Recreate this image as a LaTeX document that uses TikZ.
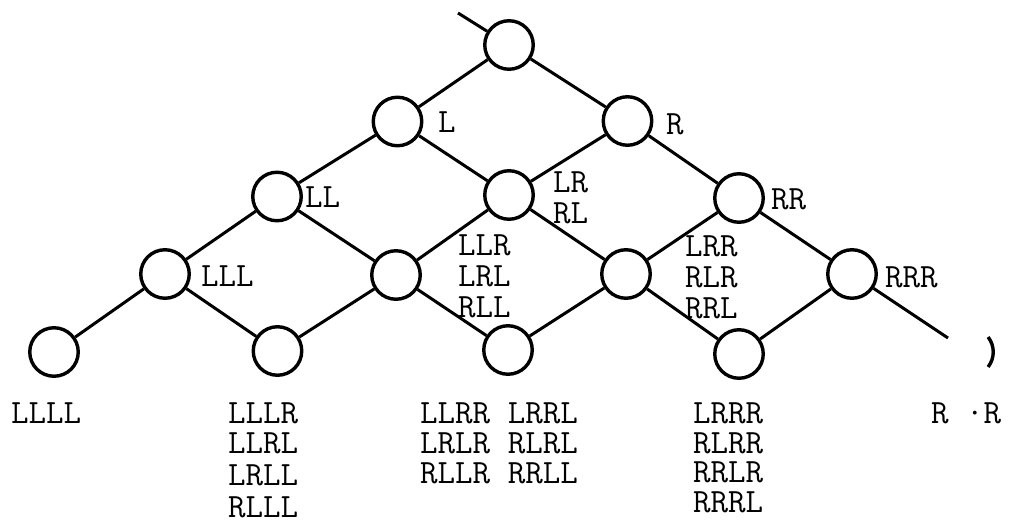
\documentclass[tikz,border=0pt]{standalone}
\begin{document}
\begin{tikzpicture}[x=1pt,y=1pt,
  stt/.style={circle,draw,line width=3.4pt,minimum size=48.5pt,inner sep=0pt},
  edge/.style={line width=3pt},
  lbl/.style={anchor=base west,inner sep=0pt,text height=21pt,text depth=4pt,font=\fontsize{34}{31}\selectfont\ttfamily}]
\useasboundingbox (0,0) rectangle (1011,-526);
% nodes
\node[stt] (r)   at (509,-45) {};
\node[stt] (l)   at (397.5,-121.5) {};
\node[stt] (rr1) at (627.5,-121) {};
\node[stt] (ll)  at (277,-196.5) {};
\node[stt] (lr)  at (509,-195) {};
\node[stt] (rr)  at (739,-198) {};
\node[stt] (a3)  at (165,-274) {};
\node[stt] (b3)  at (396,-275) {};
\node[stt] (c3)  at (626,-274) {};
\node[stt] (d3)  at (852,-274) {};
\node[stt] (a4)  at (54,-352) {};
\node[stt] (b4)  at (277.5,-351) {};
\node[stt] (c4)  at (508,-350) {};
\node[stt] (d4)  at (739,-354) {};
\coordinate (top) at (458,-13);
\coordinate (tail) at (948,-338);
% partial circle of the fifth bottom state
\draw[line width=3.4pt] (969,-352) ++(-38:24.25pt) arc[start angle=-38,end angle=38,radius=24.25pt];
% connectors
\draw[edge] (top) -- (r);
\draw[edge] (r) -- (l);
\draw[edge] (r) -- (rr1);
\draw[edge] (l) -- (ll);
\draw[edge] (l) -- (lr);
\draw[edge] (rr1) -- (lr);
\draw[edge] (rr1) -- (rr);
\draw[edge] (ll) -- (a3);
\draw[edge] (ll) -- (b3);
\draw[edge] (lr) -- (b3);
\draw[edge] (lr) -- (c3);
\draw[edge] (rr) -- (c3);
\draw[edge] (rr) -- (d3);
\draw[edge] (a3) -- (a4);
\draw[edge] (a3) -- (b4);
\draw[edge] (b3) -- (b4);
\draw[edge] (b3) -- (c4);
\draw[edge] (c3) -- (c4);
\draw[edge] (c3) -- (d4);
\draw[edge] (d3) -- (d4);
\draw[edge] (d3) -- (tail);
% labels
\node[lbl] (tL)   at (438,-133) {L};
\node[lbl] (tR)   at (666,-135) {R};
\node[lbl] (tLL)  at (305,-208) {LL};
\node[lbl] (tLR1) at (553,-193) {LR};
\node[lbl] (tLR2) at (553,-224) {RL};
\node[lbl] (tRR)  at (771,-210) {RR};
\node[lbl] (tLLL) at (201,-287) {LLL};
\node[lbl] (tb1)  at (458,-256) {LLR};
\node[lbl] (tb2)  at (458,-287) {LRL};
\node[lbl] (tb3)  at (458,-318) {RLL};
\node[lbl] (tc1)  at (685,-257) {LRR};
\node[lbl] (tc2)  at (685,-288) {RLR};
\node[lbl] (tc3)  at (685,-319) {RRL};
\node[lbl] (tRRR) at (885,-288) {RRR};
\node[lbl] (ta4)  at (11,-423) {LLLL};
\node[lbl] (tb41) at (228,-423) {LLLR};
\node[lbl] (tb42) at (228,-453) {LLRL};
\node[lbl] (tb43) at (228,-485) {LRLL};
\node[lbl] (tb44) at (228,-517) {RLLL};
\node[lbl] (tc41) at (420,-423) {LLRR LRRL};
\node[lbl] (tc42) at (420,-453) {LRLR RLRL};
\node[lbl] (tc43) at (420,-483) {RLLR RRLL};
\node[lbl] (td41) at (693,-423) {LRRR};
\node[lbl] (td42) at (693,-453) {RLRR};
\node[lbl] (td43) at (693,-482) {RRLR};
\node[lbl] (td44) at (693,-512) {RRRL};
\node[lbl] (te4)  at (931,-423) {R \textperiodcentered R};
\end{tikzpicture}
\end{document}
